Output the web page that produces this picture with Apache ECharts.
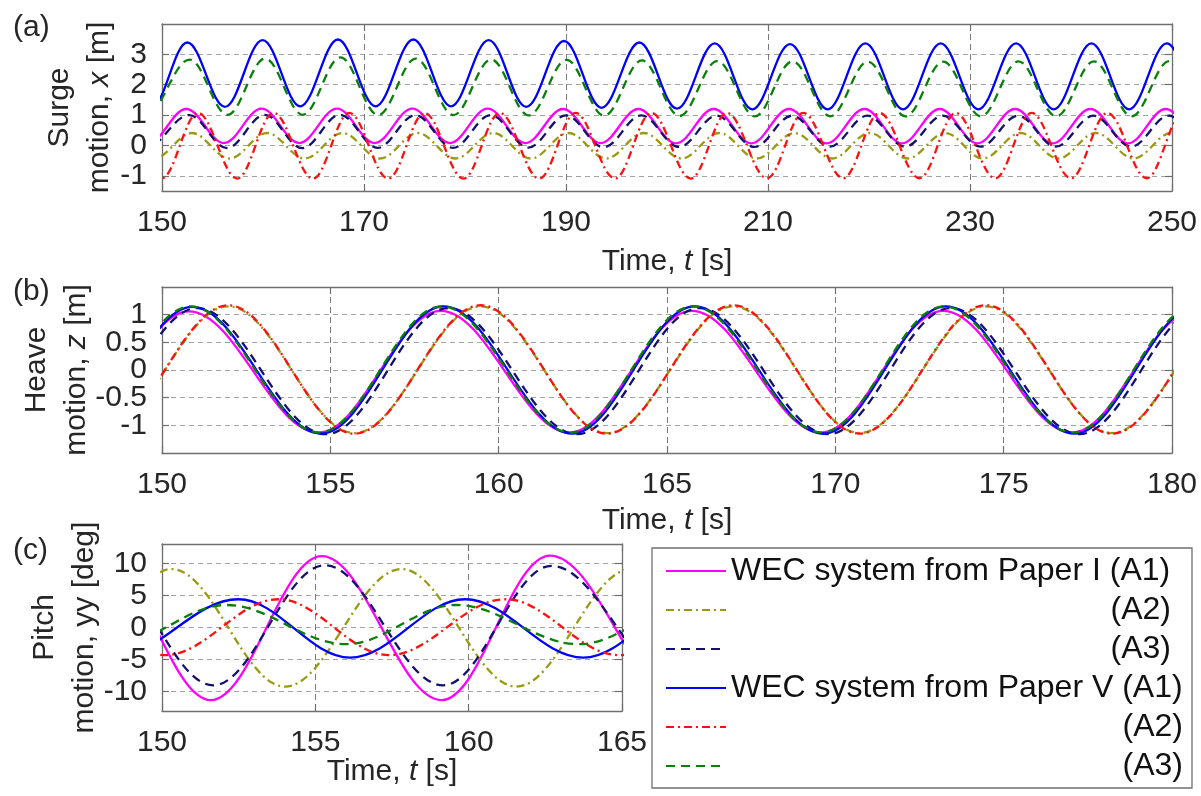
<!DOCTYPE html>
<html>
<head>
<meta charset="utf-8">
<script src="https://cdn.jsdelivr.net/npm/echarts/dist/echarts.min.js"></script>
<style>
html,body{margin:0;padding:0;background:#ffffff;}
#chart{width:1201px;height:796px;}
</style>
</head>
<body>
<div id="chart"></div>
<script>
// ================= DATA =================
const seriesNames = ['I_A1', 'I_A2', 'I_A3', 'V_A1', 'V_A2', 'V_A3'];
const legendLabels = {
  I_A1: 'WEC system from Paper I (A1)', I_A2: '(A2)', I_A3: '(A3)',
  V_A1: 'WEC system from Paper V (A1)', V_A2: '(A2)', V_A3: '(A3)'
};
const panelLetters = ['(a)', '(b)', '(c)'];

// axis ranges, tick positions and tick labels
const surgeX = [150, 250];  const surgeXTicks = [150, 170, 190, 210, 230, 250];
const surgeY = [-1.5, 4];   const surgeYTicks = [-1, 0, 1, 2, 3];
const heaveX = [150, 180];  const heaveXTicks = [150, 155, 160, 165, 170, 175, 180];
const heaveY = [-1.5, 1.5]; const heaveYTicks = [-1, -0.5, 0, 0.5, 1];
const heaveYLabelsWhole = [-1, 0, 1];
const heaveYLabelsHalf = [-0.5, 0.5];
const pitchX = [150, 165];  const pitchXTicks = [150, 155, 160, 165];
const pitchY = [-13, 13];   const pitchYTicks = [-10, -5, 0, 5, 10];

// (a) surge motion x [m]: [time s, value] at the peaks and troughs
const surge_I_A1 = [[144.94,1.20],[148.67,0.08],[152.40,1.20],[156.13,0.08],[159.86,1.21],[163.59,0.08],[167.32,1.21],[171.05,0.08],[174.78,1.21],[178.51,0.08],[182.24,1.21],[185.97,0.08],[189.70,1.20],[193.43,0.08],[197.16,1.20],[200.89,0.07],[204.62,1.20],[208.35,0.07],[212.08,1.20],[215.81,0.07],[219.54,1.20],[223.27,0.07],[227.00,1.20],[230.73,0.07],[234.46,1.20],[238.19,0.07],[241.92,1.20],[245.65,0.07],[249.38,1.20],[253.11,0.07],[256.84,1.20]];
const surge_I_A2 = [[145.49,0.41],[149.22,-0.43],[152.95,0.41],[156.68,-0.43],[160.41,0.41],[164.14,-0.43],[167.87,0.41],[171.60,-0.43],[175.33,0.41],[179.06,-0.43],[182.79,0.41],[186.52,-0.43],[190.25,0.41],[193.98,-0.43],[197.71,0.41],[201.44,-0.43],[205.17,0.41],[208.90,-0.43],[212.63,0.41],[216.36,-0.43],[220.09,0.41],[223.82,-0.43],[227.55,0.41],[231.28,-0.43],[235.01,0.41],[238.74,-0.43],[242.47,0.41],[246.20,-0.43],[249.93,0.41],[253.66,-0.43],[257.39,0.41]];
const surge_I_A3 = [[144.67,1.00],[148.40,-0.08],[152.70,1.00],[156.43,-0.09],[160.16,1.01],[163.89,-0.09],[167.62,1.01],[171.35,-0.08],[175.08,1.00],[178.81,-0.08],[182.54,1.00],[186.27,-0.07],[190.00,0.99],[193.73,-0.06],[197.46,0.99],[201.19,-0.05],[204.92,0.98],[208.65,-0.05],[212.38,0.98],[216.11,-0.04],[219.84,0.98],[223.57,-0.04],[227.30,0.98],[231.03,-0.04],[234.76,0.98],[238.49,-0.04],[242.22,0.98],[245.95,-0.04],[249.68,0.98],[253.41,-0.04],[257.14,0.98]];
const surge_V_A1 = [[145.27,3.39],[149.00,1.27],[152.50,3.39],[156.23,1.27],[159.96,3.47],[163.69,1.29],[167.42,3.49],[171.15,1.29],[174.88,3.49],[178.61,1.29],[182.34,3.47],[186.07,1.27],[189.80,3.44],[193.53,1.24],[197.26,3.39],[200.99,1.21],[204.72,3.36],[208.45,1.19],[212.18,3.34],[215.91,1.19],[219.64,3.36],[223.37,1.19],[227.10,3.36],[230.83,1.19],[234.56,3.36],[238.29,1.19],[242.02,3.36],[245.75,1.19],[249.48,3.36],[253.21,1.19],[256.94,3.36]];
const surge_V_A2 = [[142.47,-1.08],[146.20,1.07],[149.97,-1.08],[153.57,1.07],[157.45,-1.09],[161.05,1.07],[164.95,-1.09],[168.55,1.07],[172.40,-1.09],[176.00,1.07],[179.85,-1.09],[183.45,1.07],[187.35,-1.09],[190.95,1.07],[194.85,-1.09],[198.45,1.07],[202.35,-1.09],[205.95,1.07],[209.90,-1.08],[213.50,1.07],[217.45,-1.08],[221.05,1.07],[225.00,-1.08],[228.60,1.07],[232.50,-1.08],[236.10,1.07],[240.00,-1.08],[243.60,1.07],[247.50,-1.08],[251.10,1.07],[254.90,-1.08]];
const surge_V_A3 = [[144.67,2.83],[148.40,1.00],[152.75,2.83],[156.48,1.01],[160.21,2.86],[163.94,1.01],[167.67,2.90],[171.40,1.00],[175.13,2.86],[178.86,1.00],[182.59,2.83],[186.32,0.99],[190.05,2.82],[193.78,0.98],[197.51,2.80],[201.24,0.97],[204.97,2.78],[208.70,0.96],[212.43,2.77],[216.16,0.96],[219.89,2.76],[223.62,0.96],[227.35,2.76],[231.08,0.96],[234.81,2.77],[238.54,0.96],[242.27,2.77],[246.00,0.96],[249.73,2.78],[253.46,0.96],[257.19,2.78]];

// (b) heave motion z [m]
const heave_I_A1 = [[143.56,1.07],[147.20,-1.13],[150.80,1.06],[154.65,-1.13],[158.28,1.07],[162.10,-1.13],[165.74,1.07],[169.57,-1.13],[173.20,1.07],[177.03,-1.13],[180.66,1.07],[184.50,-1.13]];
const heave_I_A2 = [[144.47,1.15],[148.22,-1.14],[151.97,1.15],[155.72,-1.14],[159.47,1.15],[163.22,-1.14],[166.97,1.15],[170.72,-1.14],[174.47,1.15],[178.22,-1.14],[181.97,1.15],[185.72,-1.14]];
const heave_I_A3 = [[143.77,1.12],[147.41,-1.16],[151.05,1.12],[154.87,-1.16],[158.51,1.12],[162.33,-1.16],[165.97,1.12],[169.79,-1.16],[173.43,1.12],[177.25,-1.16],[180.89,1.12],[184.71,-1.16]];
const heave_V_A1 = [[143.62,1.15],[147.26,-1.15],[150.90,1.14],[154.72,-1.15],[158.36,1.15],[162.18,-1.15],[165.82,1.15],[169.64,-1.15],[173.28,1.15],[177.10,-1.15],[180.74,1.15],[184.56,-1.15]];
const heave_V_A2 = [[144.47,1.17],[148.22,-1.15],[151.97,1.17],[155.72,-1.15],[159.47,1.17],[163.22,-1.15],[166.97,1.17],[170.72,-1.15],[174.47,1.17],[178.22,-1.15],[181.97,1.17],[185.72,-1.15]];
const heave_V_A3 = [[143.57,1.15],[147.21,-1.13],[150.85,1.15],[154.67,-1.13],[158.31,1.15],[162.13,-1.13],[165.77,1.15],[169.59,-1.13],[173.23,1.15],[177.05,-1.13],[180.69,1.15],[184.51,-1.13]];

// (c) pitch motion yy [deg]
const pitch_I_A1 = [[144.30,-11.3],[148.00,11.1],[151.59,-11.3],[155.21,11.1],[159.12,-11.3],[162.65,11.2],[166.90,-11.3],[170.60,11.2]];
const pitch_I_A2 = [[142.90,9.1],[146.60,-9.2],[150.32,9.1],[154.01,-9.2],[157.81,9.1],[161.56,-9.2],[165.30,9.1],[169.00,-9.2]];
const pitch_I_A3 = [[144.30,-9.0],[148.00,9.6],[151.67,-9.0],[155.31,9.7],[159.17,-9.0],[162.70,9.6],[166.90,-9.0],[170.60,9.6]];
const pitch_V_A1 = [[144.70,4.4],[148.40,-4.7],[152.49,4.4],[156.13,-4.7],[159.88,4.4],[163.74,-4.7],[167.40,4.4],[171.10,-4.7]];
const pitch_V_A2 = [[142.70,-4.3],[146.40,4.4],[150.10,-4.3],[153.80,4.4],[157.40,-4.3],[161.20,4.4],[164.90,-4.3],[168.60,4.4],[172.30,-4.3]];
const pitch_V_A3 = [[144.80,3.5],[148.50,-2.6],[152.10,3.5],[156.00,-2.6],[159.60,3.5],[163.60,-2.6],[167.20,3.5],[170.90,-2.6]];

// ================= STYLE / LAYOUT =================
const FONT = '"Liberation Sans", Arial, Helvetica, sans-serif';
const FS = 30;
const LFS = 32;
const TXT = '#262626';
const AXC = '#6f6f6f';

const lineStyles = {
  I_A1: {color: '#ff00ff', type: 'solid'},
  I_A2: {color: '#9a9a12', type: [8, 4, 2, 4]},
  I_A3: {color: '#12126e', type: [9, 6]},
  V_A1: {color: '#0000ff', type: 'solid'},
  V_A2: {color: '#ff1010', type: [8, 4, 2, 4]},
  V_A3: {color: '#0a800a', type: [9, 6]}
};

const panels = [
  {grid: {left: 162, top: 24, width: 1010, height: 167}, x: surgeX, xt: surgeXTicks, y: surgeY, yt: surgeYTicks, yl: [surgeYTicks],
   yname: 'Surge\nmotion, {i|x} [m]', xGap: 54, yGap: 42, label: [13, 28],
   data: [surge_I_A1, surge_I_A2, surge_I_A3, surge_V_A1, surge_V_A2, surge_V_A3]},
  {grid: {left: 162, top: 287, width: 1010, height: 166}, x: heaveX, xt: heaveXTicks, y: heaveY, yt: heaveYTicks, yl: [heaveYLabelsWhole, heaveYLabelsHalf],
   yname: 'Heave\nmotion, {i|z} [m]', xGap: 51, yGap: 65, label: [13, 292],
   data: [heave_I_A1, heave_I_A2, heave_I_A3, heave_V_A1, heave_V_A2, heave_V_A3]},
  {grid: {left: 162, top: 544, width: 460, height: 167}, x: pitchX, xt: pitchXTicks, y: pitchY, yt: pitchYTicks, yl: [pitchYTicks],
   yname: 'Pitch\nmotion, yy [deg]', xGap: 44, yGap: 57, label: [13, 551],
   data: [pitch_I_A1, pitch_I_A2, pitch_I_A3, pitch_V_A1, pitch_V_A2, pitch_V_A3]}
];

function measure(str, size) {
  const ctx = document.createElement('canvas').getContext('2d');
  ctx.font = size + 'px "Liberation Sans"';
  return Math.ceil(ctx.measureText(str).width);
}
const W1 = measure(legendLabels.I_A1, LFS);
const W2 = measure(legendLabels.V_A1, LFS);

const labelFont = {fontFamily: FONT, fontSize: FS, color: TXT};
const grids = [], xAxes = [], yAxes = [], series = [], graphics = [];
panels.forEach((p) => {
  grids.push(Object.assign({outerBoundsMode: 'none', containLabel: false}, p.grid));
});
panels.forEach((p, i) => {
  xAxes.push({
    type: 'value', gridIndex: i, min: p.x[0], max: p.x[1], position: 'bottom',
    axisLine: {show: true, onZero: false, lineStyle: {color: AXC, width: 1.3}},
    axisTick: {show: true, inside: true, length: 7, customValues: p.xt, lineStyle: {color: AXC, width: 1.2}},
    axisLabel: Object.assign({show: true, customValues: p.xt, margin: 17,
      showMinLabel: true, showMaxLabel: true, hideOverlap: false}, labelFont),
    splitLine: {show: true, lineStyle: {color: '#7a7a7a', width: 1, type: [6, 4]}},
    name: 'Time, {i|t} [s]', nameLocation: 'middle', nameGap: p.xGap, nameMoveOverlap: false,
    nameTextStyle: {fontFamily: FONT, fontSize: FS, color: TXT, lineHeight: 34,
      rich: {i: {fontStyle: 'italic', fontFamily: FONT, fontSize: FS, color: TXT, lineHeight: 34}}}
  });
});
panels.forEach((p, i) => {
  xAxes.push({
    type: 'value', gridIndex: i, min: p.x[0], max: p.x[1], position: 'top',
    axisLine: {show: true, onZero: false, lineStyle: {color: AXC, width: 1.3}},
    axisTick: {show: true, inside: true, length: 7, customValues: p.xt, lineStyle: {color: AXC, width: 1.2}},
    axisLabel: {show: false}, splitLine: {show: false}
  });
});
panels.forEach((p, i) => {
  yAxes.push({
    type: 'value', gridIndex: i, min: p.y[0], max: p.y[1], position: 'left',
    axisLine: {show: true, onZero: false, lineStyle: {color: AXC, width: 1.3}},
    axisTick: {show: true, inside: true, length: 7, customValues: p.yt, lineStyle: {color: AXC, width: 1.2}},
    axisLabel: Object.assign({show: true, customValues: p.yl[0], margin: 15, lineHeight: 22,
      showMinLabel: true, showMaxLabel: true, hideOverlap: false}, labelFont),
    splitLine: {show: true, lineStyle: {color: '#a3a3a3', width: 1, type: [5, 4]}},
    name: p.yname, nameLocation: 'middle', nameRotate: 90, nameGap: p.yGap, nameMoveOverlap: false,
    nameTextStyle: {fontFamily: FONT, fontSize: FS, color: TXT, lineHeight: 40, align: 'center',
      rich: {i: {fontStyle: 'italic', fontFamily: FONT, fontSize: FS, color: TXT, lineHeight: 40}}}
  });
});
panels.forEach((p, i) => {
  yAxes.push({
    type: 'value', gridIndex: i, min: p.y[0], max: p.y[1], position: 'right',
    axisLine: {show: true, onZero: false, lineStyle: {color: AXC, width: 1.3}},
    axisTick: {show: true, inside: true, length: 7, customValues: p.yt, lineStyle: {color: AXC, width: 1.2}},
    axisLabel: {show: false}, splitLine: {show: false}
  });
});
// extra label-only left axes (tick labels too close for one axis to keep them all)
panels.forEach((p, i) => {
  if (p.yl.length > 1) {
    yAxes.push({
      type: 'value', gridIndex: i, min: p.y[0], max: p.y[1], position: 'left', offset: 0,
      axisLine: {show: false, onZero: false}, axisTick: {show: false}, splitLine: {show: false},
      axisLabel: Object.assign({show: true, customValues: p.yl[1], margin: 15, lineHeight: 22,
        showMinLabel: true, showMaxLabel: true, hideOverlap: false}, labelFont)
    });
  }
});
panels.forEach((p, i) => {
  seriesNames.forEach((n, k) => {
    const ls = lineStyles[n];
    series.push({
      type: 'line', name: n, xAxisIndex: i, yAxisIndex: i, data: p.data[k],
      smooth: 0.36, smoothMonotone: 'x', symbol: 'none', showSymbol: false, clip: true,
      lineStyle: {color: ls.color, width: 2.3, type: ls.type},
      itemStyle: {color: ls.color}, emphasis: {disabled: true}, z: 2 + k
    });
  });
  graphics.push({
    type: 'text', x: p.label[0], y: p.label[1], silent: true,
    style: {text: panelLetters[i], font: FS + 'px ' + FONT, fill: TXT, verticalAlign: 'middle', textVerticalAlign: 'middle'}
  });
});

const legendText = {
  I_A1: '{a|' + legendLabels.I_A1 + '}', I_A2: '{b|' + legendLabels.I_A2 + '}', I_A3: '{b|' + legendLabels.I_A3 + '}',
  V_A1: '{a|' + legendLabels.V_A1 + '}', V_A2: '{c|' + legendLabels.V_A2 + '}', V_A3: '{c|' + legendLabels.V_A3 + '}'
};

const option = {
  animation: false,
  backgroundColor: '#ffffff',
  grid: grids,
  xAxis: xAxes,
  yAxis: yAxes,
  series: series,
  graphic: graphics,
  legend: {
    data: seriesNames, orient: 'vertical', left: 652, top: 548, height: 244,
    itemWidth: 60, itemHeight: 14, itemGap: 7, padding: [7, 9, 6, 13],
    borderColor: AXC, borderWidth: 1.3, borderRadius: 0, backgroundColor: '#ffffff',
    selectedMode: false,
    itemStyle: {color: 'rgba(0,0,0,0)', borderWidth: 0, opacity: 0},
    formatter: n => legendText[n],
    textStyle: {
      fontFamily: FONT, fontSize: LFS, color: '#111111', lineHeight: 32,
      rich: {
        a: {fontFamily: FONT, fontSize: LFS, color: '#111111', lineHeight: 32},
        b: {fontFamily: FONT, fontSize: LFS, color: '#111111', lineHeight: 32, width: W1, align: 'right'},
        c: {fontFamily: FONT, fontSize: LFS, color: '#111111', lineHeight: 32, width: W2, align: 'right'}
      }
    }
  }
};

const chart = echarts.init(document.getElementById('chart'), null, {renderer: 'canvas', width: 1201, height: 796});
chart.setOption(option);
</script>
</body>
</html>
